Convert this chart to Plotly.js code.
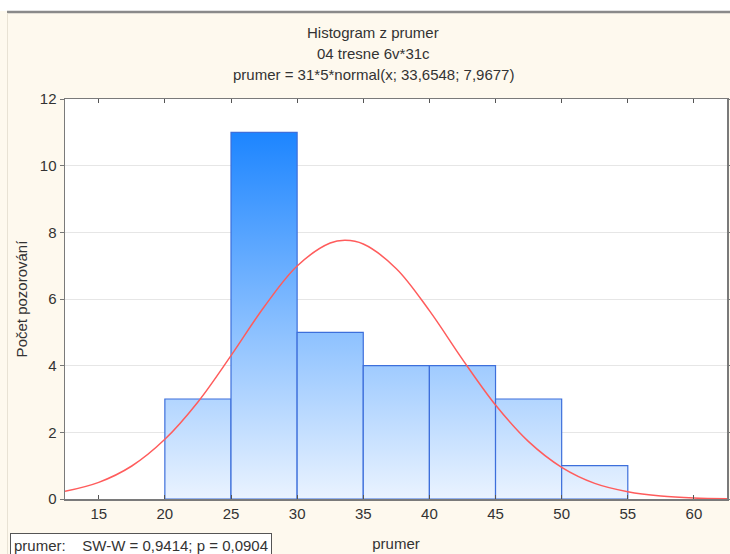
<!DOCTYPE html>
<html>
<head>
<meta charset="utf-8">
<script src="https://cdn.plot.ly/plotly-3.0.1.min.js"></script>
<style>html,body{margin:0;padding:0;background:#fff;}#chart{width:730px;height:554px;}</style>
</head>
<body>
<div id="chart"></div>
<script>
// Histogram bins (prumer) and counts
const binEdges = [20, 25, 30, 35, 40, 45, 50, 55];
const counts = [3, 11, 5, 4, 4, 3, 1];

// Fitted normal curve
const curveX = [12.45, 15, 17.5, 20, 22.5, 25, 27.5, 30, 32.5, 33.65, 35, 37.5, 40, 42.5, 45, 47.5, 50, 52.5, 55, 57.5, 60, 62.5];
const curveY = [0.23, 0.50, 0.99, 1.79, 2.91, 4.30, 5.76, 6.99, 7.68, 7.76, 7.65, 6.91, 5.65, 4.19, 2.82, 1.72, 0.95, 0.47, 0.22, 0.09, 0.03, 0.01];

const xTicks = [15, 20, 25, 30, 35, 40, 45, 50, 55, 60];
const yTicks = [0, 2, 4, 6, 8, 10, 12];

const titleLines = ["Histogram z prumer", "04 tresne 6v*31c", "prumer = 31*5*normal(x; 33,6548; 7,9677)"];
const xTitle = "prumer";
const yTitle = "Počet pozorování";
const statText = "prumer:&nbsp;&nbsp;&nbsp;&nbsp;SW-W = 0,9414; p = 0,0904";

const FONT = "Liberation Sans, Arial, sans-serif";
const traces = [];
for (let i = 0; i < counts.length; i++) {
  const x0 = binEdges[i], x1 = binEdges[i + 1], h = counts[i];
  traces.push({
    type: 'scatter', mode: 'lines',
    x: [x0, x0, x1, x1, x0], y: [0, h, h, 0, 0],
    fill: 'toself',
    fillgradient: {type: 'vertical', colorscale: [[0, '#eaf3ff'], [1, '#0a7bff']], start: 0, stop: 12},
    line: {color: '#3d6fdb', width: 1.2},
    hoverinfo: 'skip', showlegend: false
  });
}
traces.push({
  type: 'scatter', mode: 'lines', x: curveX, y: curveY,
  line: {color: '#ff5c5c', width: 1.5, shape: 'spline'},
  showlegend: false, hoverinfo: 'skip'
});

const L = 65, R = 3, T = 99, B = 55, W = 730, H = 554;
const pw = W - L - R, ph = H - T - B;
const px = v => (v - L) / pw;
const py = v => (H - B - v) / ph;

const annotations = titleLines.map((t, i) => ({
  text: t, xref: 'paper', yref: 'paper', x: px(373), y: py(32 + 21 * i),
  xanchor: 'center', yanchor: 'middle', showarrow: false,
  font: {family: FONT, size: 15, color: '#333'}
}));
annotations.push({
  text: statText, xref: 'paper', yref: 'paper', x: px(10), y: py(533),
  xanchor: 'left', yanchor: 'top', showarrow: false, align: 'left',
  bgcolor: '#ffffff', bordercolor: '#555', borderwidth: 1, borderpad: 3,
  font: {family: FONT, size: 15, color: '#333'}
});

const layout = {
  width: W, height: H,
  margin: {l: L, r: R, t: T, b: B},
  paper_bgcolor: '#fef9ee', plot_bgcolor: '#ffffff',
  font: {family: FONT, size: 15, color: '#333'},
  xaxis: {
    range: [12.45, 62.5], tickvals: xTicks, ticktext: xTicks.map(String),
    showgrid: false, zeroline: false, showline: true, linecolor: '#7a7a7a', linewidth: 1.5, mirror: 'ticks',
    ticks: 'inside', ticklen: 4, tickcolor: '#555',
    title: {text: xTitle, font: {family: FONT, size: 15, color: '#333'}, standoff: 18},
    tickfont: {family: FONT, size: 15, color: '#333'}
  },
  yaxis: {
    range: [0, 12], tickvals: yTicks, ticktext: yTicks.map(String),
    showgrid: true, gridcolor: '#e6e6e6', gridwidth: 1, zeroline: false,
    showline: true, linecolor: '#7a7a7a', linewidth: 1.5, mirror: 'ticks',
    ticks: 'outside', ticklen: 4, tickcolor: '#777',
    title: {text: yTitle, font: {family: FONT, size: 15, color: '#333'}, standoff: 8},
    tickfont: {family: FONT, size: 15, color: '#333'}
  },
  shapes: [
    {type: 'rect', xref: 'paper', yref: 'paper', x0: px(-5), x1: px(735), y0: py(11), y1: py(-5), fillcolor: '#ffffff', line: {width: 0}, layer: 'below'},
    {type: 'line', xref: 'paper', yref: 'paper', x0: px(7), x1: px(735), y0: py(12), y1: py(12), line: {color: '#8a8a8a', width: 2.5}},
    {type: 'line', xref: 'paper', yref: 'paper', x0: px(7.5), x1: px(7.5), y0: py(13), y1: py(560), line: {color: '#e8e2d4', width: 1}}
  ],
  annotations: annotations
};

Plotly.newPlot('chart', traces, layout, {displayModeBar: false, staticPlot: true});
</script>
</body>
</html>
